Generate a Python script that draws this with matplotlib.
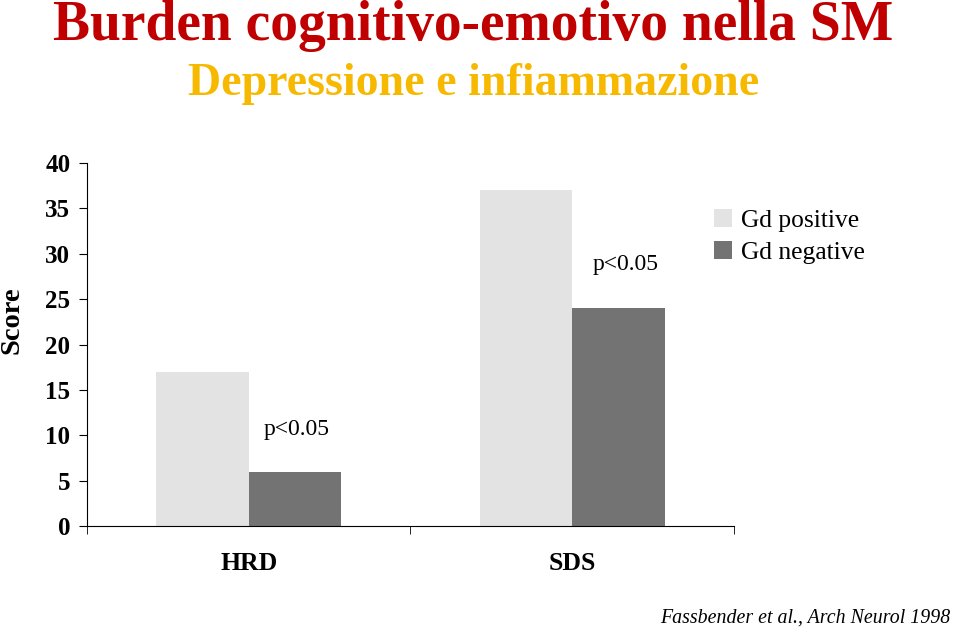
import numpy as np
import matplotlib.pyplot as plt

categories = ["HRD", "SDS"]
gd_positive = [17, 37]
gd_negative = [6, 24]
p_labels = ["p<0.05", "p<0.05"]
y_ticks = [0, 5, 10, 15, 20, 25, 30, 35, 40]

plt.rcParams['font.family'] = ['Liberation Serif', 'DejaVu Serif']

fig = plt.figure(figsize=(9.6, 6.28), dpi=100)
ax = fig.add_axes([0.0906, 0.1624, 0.674, 0.578])

x = np.arange(len(categories))
w = 0.286
ax.bar(x - w / 2, gd_positive, w, color='#e3e3e3', label='Gd positive')
ax.bar(x + w / 2, gd_negative, w, color='#737373', label='Gd negative')

# p-value annotations
ax.text(x[0] + 0.148, gd_negative[0] + 4.6, p_labels[0], ha='center', va='center', fontsize=17)
ax.text(x[1] + 0.164, gd_negative[1] + 4.8, p_labels[1], ha='center', va='center', fontsize=17)

ax.set_xlim(-0.5, 1.5)
ax.set_ylim(0, 40)
ax.set_yticks(y_ticks)
ax.set_yticklabels([str(v) for v in y_ticks], fontsize=18, fontweight='bold')
ax.set_xticks(x)
ax.set_xticklabels(categories, fontsize=18.5, fontweight='bold')
ax.set_xticks([-0.5, 0.5, 1.5], minor=True)
ax.tick_params(axis='x', which='major', length=0, pad=19)
ax.tick_params(axis='x', which='minor', length=6, direction='out')
ax.tick_params(axis='y', length=6, direction='out', pad=6)
for s in ['top', 'right']:
    ax.spines[s].set_visible(False)

fig.text(0.013, 0.49, "Score", rotation=90, ha='center', va='center', fontsize=20.5, fontweight='bold')

fig.legend(loc='upper left', bbox_to_anchor=(0.733, 0.683), frameon=False, fontsize=18.4,
           handlelength=0.7, handleheight=0.7, handletextpad=0.35, labelspacing=0.35,
           borderaxespad=0)

fig.text(0.493, 0.936, "Burden cognitivo-emotivo nella SM", ha='center', va='baseline',
         fontsize=40, fontweight='bold', color='#c00000')
fig.text(0.493, 0.849, "Depressione e infiammazione", ha='center', va='baseline',
         fontsize=33, fontweight='bold', color='#f7b900')
fig.text(0.99, 0.016, "Fassbender et al., Arch Neurol 1998", ha='right', va='center',
         fontsize=14.3, style='italic')

fig.savefig('out.png', dpi=100)
